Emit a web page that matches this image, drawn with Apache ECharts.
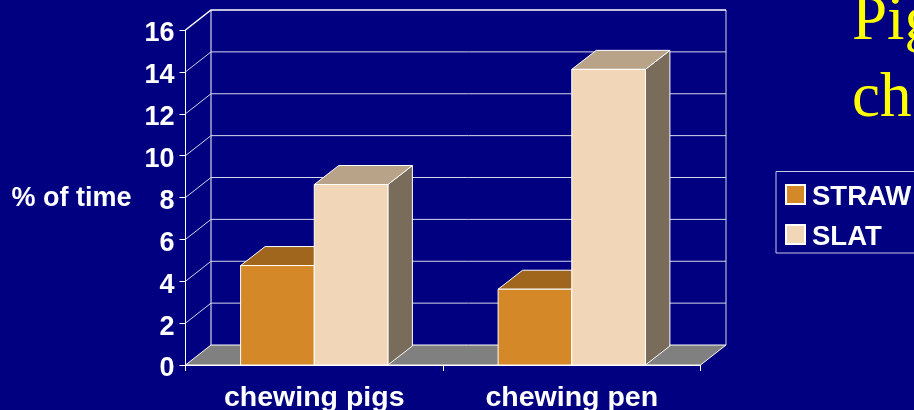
<!DOCTYPE html>
<html>
<head>
<meta charset="utf-8">
<style>html,body{margin:0;padding:0;background:#000080;overflow:hidden}#c{width:914px;height:410px}</style>
<script src="https://cdn.jsdelivr.net/npm/echarts@6/dist/echarts.min.js"></script>
</head>
<body>
<div id="c"></div>
<script>
const categories = ['chewing pigs', 'chewing pen'];
const straw = [4.75, 3.62];
const slat = [8.62, 14.12];
const yTicks = [0, 2, 4, 6, 8, 10, 12, 14, 16];
const seriesNames = ['STRAW', 'SLAT'];
const titleLines = ['Pig', 'ch'];
const yName = '% of time';

const WALL_DX = 25.5, WALL_DY = -20;
const BAR_DX = 24.5, BAR_DY = -19;
const BAR_FRACTION = 0.286;
const FONT = '"Liberation Sans", Arial, sans-serif';
const WHITE = '#ffffff', LILAC = '#d6d6ea';

function wallItem(params, api) {
  const cs = params.coordSys;
  const v = api.value(0);
  const y = api.coord([0, v])[1];
  const x0 = cs.x, x1 = cs.x + cs.width;
  const bx0 = x0 + WALL_DX, bx1 = x1 + WALL_DX, by = y + WALL_DY;
  const children = [];
  if (v === 0) {
    children.push({ type: 'polygon', shape: { points: [[x0, y], [bx0, by], [bx1, by], [x1, y]] },
      style: { fill: '#808080', stroke: WHITE, lineWidth: 1 } });
    children.push({ type: 'line', shape: { x1: bx0, y1: by, x2: bx0, y2: cs.y + WALL_DY },
      style: { stroke: LILAC, lineWidth: 1.2 } });
    children.push({ type: 'line', shape: { x1: bx1, y1: by, x2: bx1, y2: cs.y + WALL_DY },
      style: { stroke: '#b4b4d4', lineWidth: 1.2 } });
  } else {
    children.push({ type: 'polyline', shape: { points: [[x0, y], [bx0, by], [bx1, by]] },
      style: { stroke: v === 16 ? WHITE : LILAC, lineWidth: v === 16 ? 1.5 : 1, fill: 'none' } });
  }
  return { type: 'group', children };
}

function barRenderer(offset, topColor, sideColor) {
  return function (params, api) {
    const idx = api.value(0), val = api.value(1);
    const band = api.size([1, 0])[0];
    const w = band * BAR_FRACTION;
    const c = api.coord([idx, val]);
    const base = api.coord([idx, 0]);
    const l = c[0] + offset * w, r = l + w, t = c[1], b = base[1];
    const edge = { stroke: WHITE, lineWidth: 1, lineJoin: 'round' };
    return { type: 'group', children: [
      { type: 'polygon', shape: { points: [[r, b], [r + BAR_DX, b + BAR_DY], [r + BAR_DX, t + BAR_DY], [r, t]] },
        style: Object.assign({ fill: sideColor }, edge) },
      { type: 'polygon', shape: { points: [[l, t], [l + BAR_DX, t + BAR_DY], [r + BAR_DX, t + BAR_DY], [r, t]] },
        style: Object.assign({ fill: topColor }, edge) },
      { type: 'rect', shape: { x: l, y: t, width: w, height: b - t },
        style: Object.assign({ fill: api.visual('color') }, edge) }
    ] };
  };
}

const chart = echarts.init(document.getElementById('c'), null, { renderer: 'canvas' });
chart.setOption({
  animation: false,
  backgroundColor: '#000080',
  title: {
    text: titleLines.join('\n'), left: 852, top: -16, padding: 0,
    textStyle: { color: '#ffff00', fontFamily: '"Liberation Serif", serif', fontSize: 63, fontWeight: 'normal', lineHeight: 77 }
  },
  grid: { left: 185.5, top: 30, width: 515, height: 335, outerBoundsMode: 'none' },
  legend: {
    data: seriesNames, left: 776, top: 171.5, orient: 'vertical', icon: 'rect',
    itemWidth: 19, itemHeight: 19, itemGap: 7,
    padding: [6.5, 120, 2, 9], borderColor: '#c8c8e4', borderWidth: 1,
    selectedMode: false,
    formatter: '{t|{name}}',
    textStyle: { color: WHITE, fontFamily: FONT, fontWeight: 'bold', fontSize: 27.5, lineHeight: 19,
      rich: { t: { color: WHITE, fontFamily: FONT, fontWeight: 'bold', fontSize: 27.5, lineHeight: 28, padding: [5, 0, 0, 2] } } }
  },
  xAxis: {
    type: 'category', data: categories,
    axisLine: { lineStyle: { color: WHITE, width: 1 } },
    axisTick: { show: true, length: 6, lineStyle: { color: WHITE } },
    axisLabel: { color: WHITE, fontFamily: FONT, fontWeight: 'bold', fontSize: 28.5, margin: 19 }
  },
  yAxis: {
    type: 'value', min: 0, max: 16, interval: 2,
    name: '{t|' + yName + '}', nameLocation: 'middle', nameRotate: 0, nameGap: 54,
    nameTextStyle: { color: WHITE, fontFamily: FONT, fontWeight: 'bold', fontSize: 27,
      rich: { t: { color: WHITE, fontFamily: FONT, fontWeight: 'bold', fontSize: 27, lineHeight: 30, padding: [2, 0, 0, 0] } } },
    splitLine: { show: false },
    axisLine: { show: true, lineStyle: { color: WHITE, width: 1 } },
    axisTick: { show: true, length: 6, lineStyle: { color: WHITE } },
    axisLabel: { color: WHITE, fontFamily: FONT, fontWeight: 'bold', fontSize: 27, margin: 11,
      formatter: '{t|{value}}',
      rich: { t: { color: WHITE, fontFamily: FONT, fontWeight: 'bold', fontSize: 27, lineHeight: 30, padding: [8, 0, 0, 0] } } }
  },
  series: [
    { type: 'custom', coordinateSystem: 'cartesian2d', z: 1, silent: true,
      data: yTicks.map(v => [v]), encode: { y: 0 }, renderItem: wallItem },
    { type: 'custom', name: seriesNames[0], z: 3, silent: true,
      itemStyle: { color: '#d58827', borderColor: WHITE, borderWidth: 1 },
      data: straw.map((v, i) => [i, v]), encode: { x: 0, y: 1 },
      renderItem: barRenderer(-1, '#a0661e', '#7d5518') },
    { type: 'custom', name: seriesNames[1], z: 4, silent: true,
      itemStyle: { color: '#f2d6b8', borderColor: WHITE, borderWidth: 1 },
      data: slat.map((v, i) => [i, v]), encode: { x: 0, y: 1 },
      renderItem: barRenderer(0, '#b8a389', '#7a6c5a') }
  ]
});
</script>
</body>
</html>
